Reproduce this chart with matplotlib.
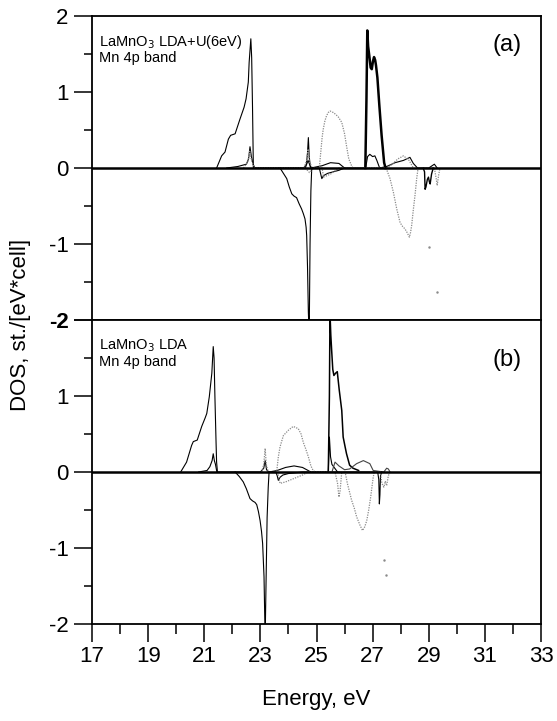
import matplotlib
matplotlib.use("Agg")
import matplotlib.pyplot as plt
from matplotlib.ticker import MultipleLocator

plt.rcParams['font.family'] = ['Liberation Sans', 'DejaVu Sans']
plt.rcParams['axes.unicode_minus'] = False

# ---------------- Panel (a): LDA+U(6eV) ----------------
a_main_up_E = [21.44, 21.62, 21.74, 21.86, 21.94, 22.10, 22.27, 22.42, 22.49, 22.57, 22.60, 22.66, 22.69, 22.72, 22.75, 22.80,
               24.55, 24.64, 24.68, 24.71, 24.74, 24.78, 24.85]
a_main_up = [0, 0.16, 0.21, 0.38, 0.43, 0.45, 0.64, 0.80, 0.91, 1.13, 1.39, 1.70, 1.45, 0.80, 0.0, 0,
             0, 0.05, 0.20, 0.40, 0.15, 0.02, 0]

a_spike_E = [26.74, 26.78, 26.81, 26.84, 26.88, 26.93, 26.97, 27.01, 27.05, 27.09, 27.12, 27.17, 27.24, 27.32, 27.41, 27.46]
a_spike = [0, 0.90, 1.81, 1.60, 1.48, 1.32, 1.30, 1.40, 1.46, 1.42, 1.35, 1.19, 0.82, 0.43, 0.07, 0]

a_small_up_E = [21.8, 22.2, 22.5, 22.58, 22.63, 22.68, 22.74, 22.8, 24.6, 24.7, 24.8, 25.2, 25.5, 25.8, 26.0,
                26.75, 26.82, 26.9, 27.0, 27.08, 27.15, 27.25, 27.5, 27.8, 28.1, 28.33, 28.45, 28.6, 29.0, 29.2, 29.3]
a_small_up = [0, 0.02, 0.05, 0.12, 0.28, 0.15, 0.05, 0, 0, 0.10, 0, 0.03, 0.07, 0.06, 0,
              0, 0.15, 0.18, 0.15, 0.16, 0.10, 0, 0.02, 0.07, 0.10, 0.14, 0.06, 0, 0, 0.05, 0]

a_grey_up_E = [22.40, 22.55, 22.62, 22.68, 22.80, 24.55, 24.65, 24.70, 24.75, 24.85,
               25.10, 25.15, 25.20, 25.24, 25.30, 25.36, 25.42, 25.48, 25.60, 25.70, 25.78, 25.90, 26.00, 26.07, 26.15, 26.25, 26.30,
               27.50, 27.70, 27.90, 28.10, 28.30, 28.45]
a_grey_up = [0, 0.08, 0.22, 0.10, 0, 0, 0.10, 0.25, 0.08, 0,
             0, 0.20, 0.40, 0.51, 0.62, 0.69, 0.73, 0.75, 0.73, 0.70, 0.67, 0.60, 0.45, 0.29, 0.12, 0.03, 0,
             0, 0.05, 0.12, 0.16, 0.10, 0]

a_main_dn_E = [23.70, 23.82, 23.94, 24.03, 24.12, 24.20, 24.29, 24.38, 24.47, 24.53, 24.59, 24.63, 24.65, 24.68, 24.71, 24.74,
               24.77, 24.80, 24.83, 24.90, 25.10, 25.15, 25.19, 25.25, 25.40, 25.60, 25.80, 26.00]
a_main_dn = [0, -0.07, -0.14, -0.25, -0.34, -0.37, -0.39, -0.47, -0.54, -0.60, -0.67, -0.78, -0.89, -1.30, -1.90, -2.20,
             -1.00, -0.30, 0, 0, 0, -0.08, -0.14, -0.10, -0.07, -0.05, -0.03, 0]

a_wiggle_dn_E = [28.80, 28.85, 28.87, 28.90, 28.95, 28.99, 29.02, 29.05, 29.10, 29.16]
a_wiggle_dn = [0, -0.05, -0.28, -0.25, -0.15, -0.12, -0.18, -0.21, -0.08, 0]

a_grey_dn_E = [24.60, 24.75, 24.90, 25.20, 25.25, 25.50, 25.80,
               27.45, 27.50, 27.62, 27.74, 27.86, 27.98, 28.07, 28.15, 28.23, 28.31, 28.35, 28.39, 28.45, 28.51, 28.57, 28.62,
               29.20, 29.27, 29.30, 29.35, 29.40]
a_grey_dn = [0, -0.06, 0, 0, -0.12, -0.08, 0,
             0, -0.02, -0.14, -0.32, -0.54, -0.72, -0.77, -0.80, -0.85, -0.91, -0.85, -0.76, -0.55, -0.36, -0.14, 0,
             0, -0.15, -0.23, -0.10, 0]

a_dots_E = [29.00, 29.28]
a_dots = [-1.04, -1.63]

# ---------------- Panel (b): LDA ----------------
b_main_up_E = [20.16, 20.37, 20.55, 20.61, 20.75, 20.91, 21.03, 21.09, 21.18, 21.27, 21.32, 21.35, 21.38, 21.42, 21.44, 21.47]
b_main_up = [0, 0.13, 0.35, 0.40, 0.42, 0.60, 0.71, 0.77, 0.99, 1.30, 1.65, 1.50, 0.99, 0.40, 0.13, 0]

b_spike_E = [25.42, 25.46, 25.48, 25.51, 25.54, 25.58, 25.62, 25.68, 25.74, 25.81, 25.90, 25.95, 26.02, 26.07, 26.18, 26.30, 26.50]
b_spike = [0, 1.00, 2.10, 1.80, 1.60, 1.35, 1.27, 1.30, 1.32, 1.08, 0.81, 0.46, 0.33, 0.24, 0.09, 0.05, 0.02]

b_small_up_E = [20.8, 21.1, 21.2, 21.28, 21.32, 21.36, 21.40, 21.45, 23.0, 23.12, 23.17, 23.22, 23.30,
                23.6, 23.9, 24.2, 24.5, 24.8, 25.42, 25.46, 25.50, 25.55, 25.65, 25.75]
b_small_up = [0, 0.02, 0.07, 0.15, 0.24, 0.15, 0.10, 0, 0, 0.05, 0.15, 0.03, 0,
              0.02, 0.06, 0.08, 0.06, 0, 0, 0.46, 0.20, 0.10, 0.05, 0]

b_hump_E = [25.55, 25.66, 25.80, 26.00, 26.18, 26.43, 26.67, 26.90, 27.02, 27.40, 27.50, 27.56, 27.62]
b_hump = [0, 0.13, 0.08, 0.03, 0.04, 0.11, 0.15, 0.11, 0.02, 0, 0.05, 0.04, 0]

b_grey_up_E = [23.05, 23.12, 23.17, 23.21, 23.28, 23.58, 23.64, 23.70, 23.82, 24.00, 24.17, 24.35, 24.45, 24.53, 24.62,
               24.71, 24.80, 24.88, 24.95]
b_grey_up = [0, 0.10, 0.31, 0.10, 0, 0, 0.20, 0.33, 0.48, 0.55, 0.60, 0.57, 0.50, 0.39, 0.30, 0.20, 0.08, 0.02, 0]

b_main_dn_E = [22.10, 22.25, 22.39, 22.50, 22.63, 22.72, 22.81, 22.87, 22.93, 22.99, 23.04, 23.08, 23.13, 23.17, 23.20,
               23.24, 23.28, 23.31, 23.55, 23.60, 23.64, 23.70, 23.80, 24.00, 24.50,
               27.18, 27.22, 27.24, 27.26, 27.28, 27.32]
b_main_dn = [0, -0.06, -0.13, -0.22, -0.35, -0.38, -0.40, -0.43, -0.52, -0.64, -0.78, -0.94, -1.38, -2.20, -1.50,
             -0.60, -0.20, 0, 0, -0.05, -0.11, -0.07, -0.04, -0.02, 0,
             0, -0.10, -0.42, -0.30, -0.05, 0]

b_grey_dn_E = [23.62, 23.70, 23.90, 24.10, 24.30, 24.50, 24.70,
               25.66, 25.75, 25.80, 25.84, 25.90,
               26.02, 26.10, 26.25, 26.35, 26.43, 26.55, 26.64, 26.72, 26.79, 26.86, 26.93, 27.02, 27.06,
               27.28, 27.33, 27.40, 27.45, 27.50, 27.56, 27.62]
b_grey_dn = [0, -0.15, -0.13, -0.10, -0.07, -0.04, 0,
             0, -0.15, -0.33, -0.25, 0,
             0, -0.15, -0.37, -0.48, -0.59, -0.70, -0.77, -0.72, -0.64, -0.50, -0.33, -0.07, 0,
             0, -0.15, -0.20, -0.12, -0.18, -0.05, 0]

b_dots_E = [27.40, 27.46]
b_dots = [-1.16, -1.36]

x_ticks = [17, 19, 21, 23, 25, 27, 29, 31, 33]
y_ticks_a = [-2, -1, 0, 1, 2]
y_ticks_b = [-2, -1, 0, 1, 2]

GREY = '#8a8a8a'

fig = plt.figure(figsize=(5.57, 7.21), dpi=100)
L, R = 92 / 557, 541 / 557
ax_a = fig.add_axes([L, 1 - 320 / 721, R - L, 304 / 721])
ax_b = fig.add_axes([L, 1 - 624 / 721, R - L, 304 / 721])

for ax, yt in ((ax_a, y_ticks_a), (ax_b, y_ticks_b)):
    ax.set_xlim(17, 33)
    ax.set_ylim(-2, 2)
    ax.axhline(0, color='black', lw=1.8, zorder=5)
    for s in ax.spines.values():
        s.set_linewidth(1.3)
    ax.set_yticks(yt)
    ax.yaxis.set_minor_locator(MultipleLocator(0.5))
    ax.tick_params(axis='y', which='major', direction='out', length=13, width=1.1,
                   labelsize=16, pad=4, right=False)
    ax.tick_params(axis='y', which='minor', direction='out', length=6, width=1.1, right=False)

# shared boundary label: panel a's "-2" drawn bold, panel b's "2" hidden (they coincide)
ax_a.set_yticklabels(['-2', '-1', '0', '1', '2'])
ax_a.get_yticklabels()[0].set_fontweight('bold')
ax_b.set_yticklabels(['-2', '-1', '0', '1', ''])

# panel a
ax_a.plot(a_main_up_E, a_main_up, color='black', lw=0.8)
ax_a.plot(a_spike_E, a_spike, color='black', lw=1.8)
ax_a.plot(a_small_up_E, a_small_up, color='black', lw=0.8)
ax_a.plot(a_grey_up_E, a_grey_up, color=GREY, lw=0.9, ls=(0, (1, 1)))
ax_a.plot(a_main_dn_E, a_main_dn, color='black', lw=0.8)
ax_a.plot(a_wiggle_dn_E, a_wiggle_dn, color='black', lw=1.0)
ax_a.plot(a_grey_dn_E, a_grey_dn, color=GREY, lw=0.9, ls=(0, (1, 1)))
ax_a.plot(a_dots_E, a_dots, ls='none', marker='.', ms=1.5, color=GREY)
ax_a.set_xticks([])
ax_a.text(0.015, 0.915, 'LaMnO$_3$ LDA+U(6eV)', transform=ax_a.transAxes, fontsize=10.5, va='center')
ax_a.text(0.015, 0.862, 'Mn 4p band', transform=ax_a.transAxes, fontsize=10.5, va='center')
ax_a.text(0.924, 0.905, '(a)', transform=ax_a.transAxes, fontsize=17, ha='center', va='center')

# panel b
ax_b.plot(b_main_up_E, b_main_up, color='black', lw=0.8)
ax_b.plot(b_spike_E, b_spike, color='black', lw=1.1)
ax_b.plot(b_small_up_E, b_small_up, color='black', lw=0.8)
ax_b.plot(b_hump_E, b_hump, color='#444444', lw=0.8)
ax_b.plot(b_grey_up_E, b_grey_up, color=GREY, lw=0.9, ls=(0, (1, 1)))
ax_b.plot(b_main_dn_E, b_main_dn, color='black', lw=0.8)
ax_b.plot(b_grey_dn_E, b_grey_dn, color=GREY, lw=0.9, ls=(0, (1, 1)))
ax_b.plot(b_dots_E, b_dots, ls='none', marker='.', ms=1.5, color=GREY)
ax_b.set_xticks(x_ticks)
ax_b.xaxis.set_minor_locator(MultipleLocator(1))
ax_b.tick_params(axis='x', which='major', direction='out', length=13, width=1.1, labelsize=16, pad=3, top=False)
ax_b.tick_params(axis='x', which='minor', direction='out', length=7, width=1.1, top=False)
ax_b.text(0.015, 0.915, 'LaMnO$_3$ LDA', transform=ax_b.transAxes, fontsize=10.5, va='center')
ax_b.text(0.015, 0.862, 'Mn 4p band', transform=ax_b.transAxes, fontsize=10.5, va='center')
ax_b.text(0.924, 0.87, '(b)', transform=ax_b.transAxes, fontsize=17, ha='center', va='center')
ax_b.set_xlabel('Energy, eV', fontsize=16, labelpad=16)

fig.text(21 / 557, 1 - 325 / 721, 'DOS, st./[eV*cell]', rotation=90, fontsize=16,
         ha='center', va='center')

fig.savefig('out.png', dpi=100)
